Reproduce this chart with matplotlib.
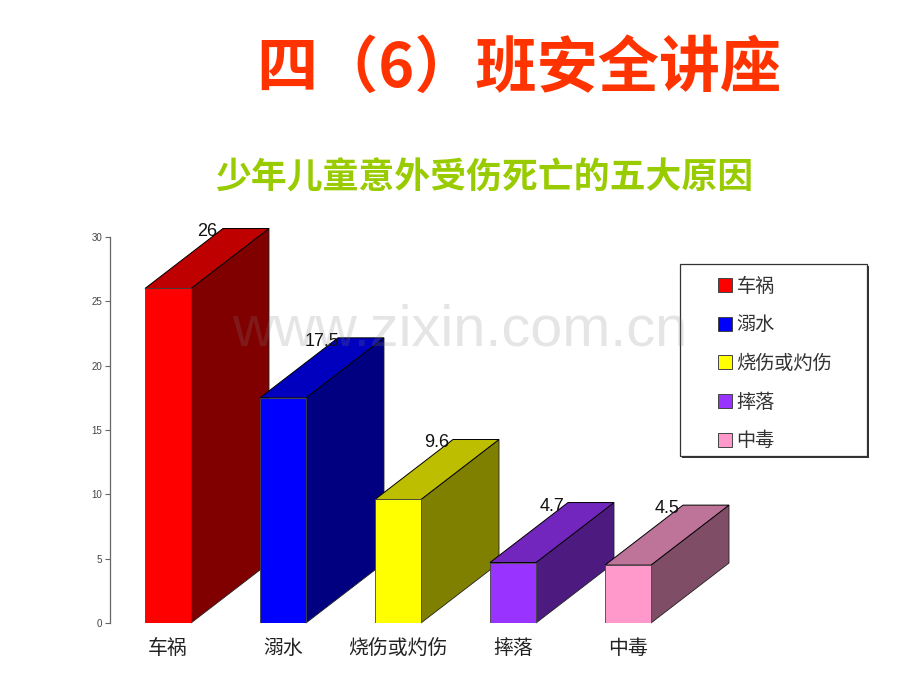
import matplotlib
matplotlib.use('Agg')
import matplotlib.pyplot as plt
from matplotlib.patches import Patch, Rectangle

plt.rcParams['font.family'] = ['Noto Sans CJK SC', 'DejaVu Sans']

categories = ['车祸', '溺水', '烧伤或灼伤', '摔落', '中毒']
values = [26, 17.5, 9.6, 4.7, 4.5]
value_labels = ['26', '17.5', '9.6', '4.7', '4.5']
yticks = [0, 5, 10, 15, 20, 25, 30]

front_colors = ['#FF0000', '#0000FF', '#FFFF00', '#9933FF', '#FF99CC']
top_colors = ['#BE0000', '#0000BE', '#BEBE00', '#7326BE', '#BE7399']
side_colors = ['#800000', '#000080', '#808000', '#4D1A80', '#804D66']

W = 920
H = 690
bar_w = 0.4
depth_x = 78 / 115
depth_y = 60 / 12.87

fig = plt.figure(figsize=(W / 100, H / 100), dpi=100, facecolor='white')

# axes box in pixels: x 110 to 760, y 237 to 623
ax = fig.add_axes([110 / W, 1 - 623 / H, 650 / W, 386 / H])
ax.set_xlim(-58 / 115, 592 / 115)
ax.set_ylim(0, 30)
ax.patch.set_alpha(0)

for i, v in enumerate(values):
    left = i - bar_w / 2
    right = i + bar_w / 2
    # side and top faces of the 3d bar
    ax.fill([right, right + depth_x, right + depth_x, right],
            [0, depth_y, v + depth_y, v],
            facecolor=side_colors[i], edgecolor='#222222', linewidth=0.6, clip_on=False, zorder=2 + i)
    ax.fill([left, left + depth_x, right + depth_x, right],
            [v, v + depth_y, v + depth_y, v],
            facecolor=top_colors[i], edgecolor='black', linewidth=0.7, clip_on=False, zorder=2 + i)
    ax.bar(i, v, width=bar_w, color=front_colors[i], edgecolor='#444444', linewidth=0.6, zorder=2 + i)

for i, v in enumerate(values):
    ax.text(i + 0.34, v + depth_y - 0.27, value_labels[i], ha='center', va='center',
            fontsize=13, family='Liberation Sans', color='#111111', zorder=10, clip_on=False)

for s in ['top', 'right', 'bottom']:
    ax.spines[s].set_visible(False)
ax.spines['left'].set_color('#666666')
ax.spines['left'].set_linewidth(0.9)

ax.set_yticks(yticks)
ax.set_yticklabels([str(t) for t in yticks], family='Liberation Sans', fontsize=7, color='#444444')
ax.tick_params(axis='y', length=3.8, width=0.8, color='#666666', pad=2)
ax.set_xticks(range(len(categories)))
ax.set_xticklabels(categories, fontsize=14.3, color='#222222')
ax.tick_params(axis='x', length=0, pad=11)

# titles
fig.text(519 / W, 1 - 69 / H, '四（6）班安全讲座', ha='center', va='center',
         fontsize=44, fontweight='bold', color='#FF3300')
fig.text(484 / W, 1 - 178 / H, '少年儿童意外受伤死亡的五大原因', ha='center', va='center',
         fontsize=25.8, fontweight='bold', color='#99CC00')

# legend frame with a hard shadow
fig.add_artist(Rectangle((682 / W, 1 - 458 / H), 187 / W, 192 / H, transform=fig.transFigure,
                         facecolor='#333333', edgecolor='none', zorder=5))
fig.add_artist(Rectangle((680 / W, 1 - 456 / H), 187 / W, 192 / H, transform=fig.transFigure,
                         facecolor='white', edgecolor='#333333', linewidth=0.9, zorder=6))
handles = [Patch(facecolor=c, edgecolor='#444444', linewidth=0.7, label=n)
           for c, n in zip(front_colors, categories)]
leg = fig.legend(handles=handles, loc='upper left', bbox_to_anchor=(714 / W, 1 - 272 / H),
                 frameon=False, fontsize=13.8, handlelength=0.74, handleheight=0.74,
                 handletextpad=0.24, labelspacing=0.92, borderpad=0.2, borderaxespad=0,
                 labelcolor='#333333')
leg.set_zorder(7)

# watermark
fig.text(460 / W, 1 - 330 / H, 'www.zixin.com.cn', ha='center', va='center',
         fontsize=41.5, family='Liberation Sans', color='#808080', alpha=0.2, zorder=20)

fig.savefig('out.png', dpi=100)
